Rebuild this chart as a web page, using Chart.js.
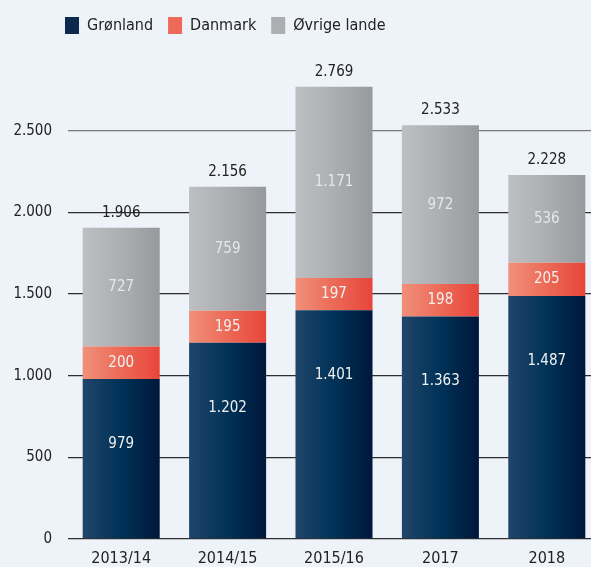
<!DOCTYPE html>
<html><head><meta charset="utf-8">
<script src="https://cdn.jsdelivr.net/npm/chart.js@4/dist/chart.umd.min.js"></script>
<style>
html,body{margin:0;padding:0;background:#eef2f9;overflow:hidden;}
#wrap{width:600px;height:567px;position:relative;}
</style></head><body>
<div id="wrap"><canvas id="c"></canvas></div>
<script>
const categories = ['2013/14', '2014/15', '2015/16', '2017', '2018'];
const seriesNames = ['Grønland', 'Danmark', 'Øvrige lande'];
const groenland = [979, 1202, 1401, 1363, 1487];
const danmark = [200, 195, 197, 198, 205];
const oevrige = [727, 759, 1171, 972, 536];
const yTicks = [0, 500, 1000, 1500, 2000, 2500];

const FONT = "'Liberation Sans Narrow', 'DejaVu Sans Condensed', 'Liberation Sans', sans-serif";
const BAR_RATIO = 0.724;
const totals = categories.map((_, i) => groenland[i] + danmark[i] + oevrige[i]);
const fmt = n => String(n).replace(/\B(?=(\d{3})+(?!\d))/g, '.');

function grad(stops) {
  return (ctx) => {
    const chart = ctx.chart;
    const xs = chart.scales && chart.scales.x;
    if (!chart.chartArea || !xs || ctx.dataIndex === undefined) return stops[Math.floor(stops.length / 2)];
    const cx = xs.getPixelForValue(ctx.dataIndex);
    const half = xs.width / categories.length * BAR_RATIO / 2;
    const g = chart.ctx.createLinearGradient(cx - half, 0, cx + half, 0);
    stops.forEach((c, i) => g.addColorStop(i / (stops.length - 1), c));
    return g;
  };
}

const legendShift = {
  id: 'legendShift',
  afterLayout(chart) {
    if (chart.legend) { chart.legend.left += 50; chart.legend.top -= 5; }
  }
};

const labelPlugin = {
  id: 'barLabels',
  afterDatasetsDraw(chart) {
    const c = chart.ctx;
    c.save();
    c.textAlign = 'center';
    c.textBaseline = 'middle';
    c.font = '15px ' + FONT;
    chart.data.datasets.forEach((ds, di) => {
      const meta = chart.getDatasetMeta(di);
      meta.data.forEach((bar, i) => {
        const p = bar.getProps(['x', 'y', 'base'], true);
        let ly = (p.y + p.base) / 2;
        if (di === 0) ly = p.y + 65;
        c.fillStyle = di === 2 ? '#e6e7e9' : '#f1f1f1';
        c.fillText(fmt(ds.data[i]), p.x, ly);
      });
    });
    const top = chart.getDatasetMeta(2);
    c.fillStyle = '#222';
    top.data.forEach((bar, i) => {
      const p = bar.getProps(['x', 'y'], true);
      c.fillText(fmt(totals[i]), p.x, p.y - 15);
    });
    c.restore();
  }
};

new Chart(document.getElementById('c'), {
  type: 'bar',
  data: {
    labels: categories,
    datasets: [
      { label: seriesNames[0], data: groenland, backgroundColor: grad(['#21456b', '#003258', '#00173a']) },
      { label: seriesNames[1], data: danmark, backgroundColor: grad(['#f0907b', '#ec6a57', '#e7453a']) },
      { label: seriesNames[2], data: oevrige, backgroundColor: grad(['#bdbfc2', '#acafb1', '#979a9c']) }
    ]
  },
  options: {
    responsive: true,
    maintainAspectRatio: false,
    animation: false,
    layout: { padding: { left: 0, right: 0, top: 7, bottom: 0 } },
    datasets: { bar: { barPercentage: BAR_RATIO, categoryPercentage: 1, borderWidth: 0 } },
    plugins: {
      legend: {
        position: 'top', align: 'start',
        labels: {
          boxWidth: 14, boxHeight: 17, padding: 15, color: '#222',
          font: { size: 16, family: FONT },
          generateLabels(chart) {
            const cols = ['#0b2a4e', '#ec6a57', '#acafb1'];
            return chart.data.datasets.map((d, i) => ({
              text: d.label, fillStyle: cols[i], strokeStyle: cols[i], lineWidth: 0, datasetIndex: i, fontColor: '#222'
            }));
          }
        }
      },
      tooltip: { enabled: false }
    },
    scales: {
      x: {
        stacked: true,
        grid: { display: false },
        border: { display: false },
        ticks: { color: '#222', font: { size: 16, family: FONT }, padding: 2 },
        afterFit(s) { s.height = 28; }
      },
      y: {
        stacked: true,
        min: 0, max: 3000,
        afterBuildTicks(s) { s.ticks = yTicks.map(v => ({ value: v })); },
        grid: {
          drawTicks: false,
          color: c => (c.tick && c.tick.value === 2500) ? '#77797c' : '#2e2e2e',
          lineWidth: 1.3
        },
        border: { display: false },
        ticks: { color: '#222', font: { size: 15, family: FONT }, padding: 16, callback: v => fmt(v) },
        afterFit(s) { s.width = 68; }
      }
    }
  },
  plugins: [legendShift, labelPlugin]
});
</script>
</body></html>
